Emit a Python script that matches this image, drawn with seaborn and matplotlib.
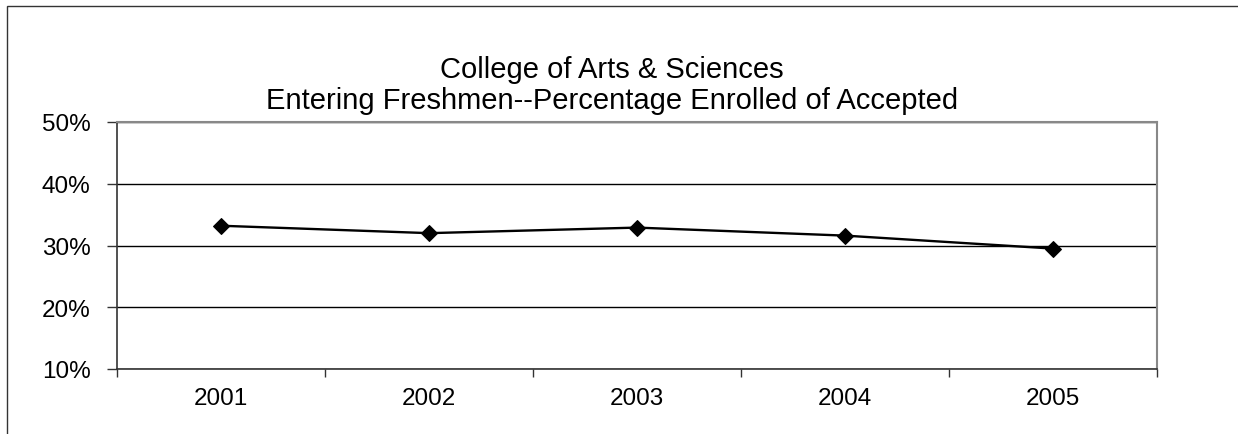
import numpy as np
import pandas as pd
import matplotlib
matplotlib.use("Agg")
import matplotlib.pyplot as plt
import seaborn as sns
from matplotlib.ticker import FixedLocator, PercentFormatter
from matplotlib.patches import Rectangle

# Data
years = ["2001", "2002", "2003", "2004", "2005"]
pct_enrolled = [33.2, 32.0, 32.9, 31.6, 29.5]
y_ticks = [10, 20, 30, 40, 50]

df = pd.DataFrame({"year": years, "pct": pct_enrolled})

sns.set_style("white")
plt.rcParams["font.family"] = ["Liberation Sans", "DejaVu Sans"]
plt.rcParams["text.color"] = "black"
plt.rcParams["xtick.color"] = "black"
plt.rcParams["ytick.color"] = "black"

fig = plt.figure(figsize=(12.38, 4.35), dpi=100)
ax = fig.add_axes([117 / 1238, 1 - 370 / 435, 1040 / 1238, 247 / 435])

pos = np.arange(len(years))
sns.lineplot(x=pos, y=df["pct"], ax=ax, color="black", linewidth=1.7,
             marker="D", markersize=8, markeredgecolor="black")

ax.set_xlim(-0.5, len(years) - 0.5)
ax.set_ylim(y_ticks[0], y_ticks[-1])
ax.set_yticks(y_ticks)
ax.yaxis.set_major_formatter(PercentFormatter(decimals=0))
ax.set_xticks(pos)
ax.set_xticklabels(years)
ax.xaxis.set_minor_locator(FixedLocator(np.arange(len(years) + 1) - 0.5))

ax.tick_params(axis="x", which="major", bottom=True, length=0, pad=13, labelsize=17.5,
               labelcolor="black")
ax.tick_params(axis="x", which="minor", bottom=True, length=6, width=1, color="#333333",
               direction="out")
ax.tick_params(axis="y", left=True, length=7, width=1, color="#333333", direction="out",
               pad=12, labelsize=17.5, labelcolor="black")

ax.grid(axis="y", color="black", linewidth=1)
ax.set_xlabel("")
ax.set_ylabel("")

for side in ["left", "bottom"]:
    ax.spines[side].set_color("#333333")
    ax.spines[side].set_linewidth(1.2)
for side in ["top", "right"]:
    ax.spines[side].set_color("#888888")
    ax.spines[side].set_linewidth(1.5)

fig.text(0.494, 1 - 70 / 435, "College of Arts & Sciences", ha="center", va="center",
         fontsize=21, color="black")
fig.text(0.494, 1 - 101 / 435, "Entering Freshmen--Percentage Enrolled of Accepted",
         ha="center", va="center", fontsize=21, color="black")

# outer chart border
fig.patches.append(Rectangle((7 / 1238, -0.1), 1.2, 1.1 - 7 / 435,
                             transform=fig.transFigure, fill=False,
                             edgecolor="#333333", linewidth=1))

fig.savefig("out.png", dpi=100)
